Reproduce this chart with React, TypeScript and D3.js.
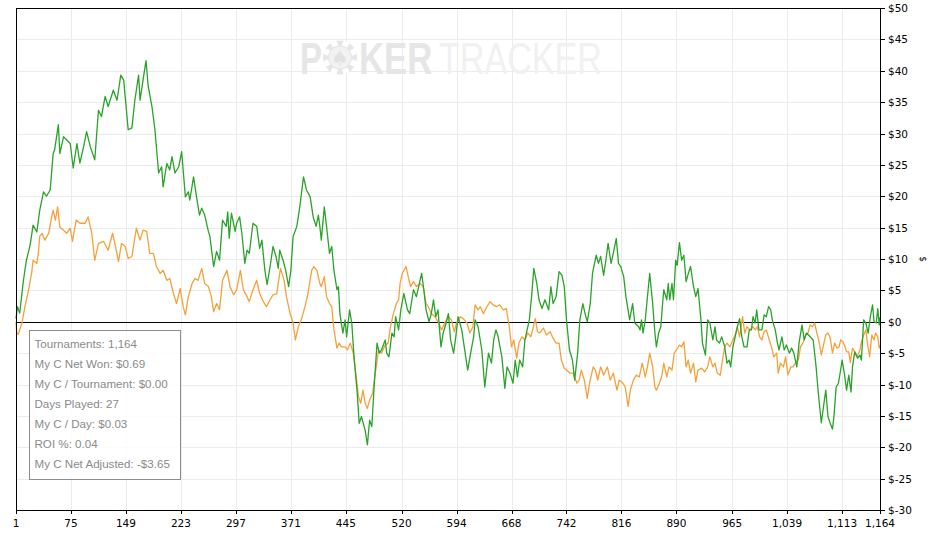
import React from "react";
import * as d3 from "d3";

// ---- data ----
const xTickValues = [1, 75, 149, 223, 297, 371, 445, 520, 594, 668, 742, 816, 890, 965, 1039, 1113, 1164];
const yTickValues = [50, 45, 40, 35, 30, 25, 20, 15, 10, 5, 0, -5, -10, -15, -20, -25, -30];

const greenTournaments = [
  1, 3, 6, 11, 15, 20, 24, 29, 33, 38, 42, 47, 51, 53, 58, 60, 65, 69, 74, 78, 83, 87, 92, 96, 101, 107, 112, 116, 121, 125,
  132, 137, 142, 146, 152, 157, 161, 166, 168, 172, 176, 179, 184, 188, 193, 197,
  199, 204, 208, 211, 215, 220, 224, 229, 233, 235, 240, 244, 248, 251, 255, 260, 262, 267, 271, 275, 279, 284, 286, 288,
  291, 296, 298, 302, 305, 309, 312, 315, 320, 325, 329, 332, 336, 339, 343, 347, 351, 354, 356, 361, 364, 368, 371, 374,
  379, 383, 388, 392, 397, 401, 405, 408,
  410, 412, 416, 419, 423, 426, 429, 433, 435, 437, 441, 444, 446, 450, 453, 456, 460, 463, 466, 471, 474, 477, 480, 483,
  487, 490, 493, 498, 500, 503, 507, 510, 512, 516, 519, 523, 528, 531, 536, 540, 544, 547, 550, 553, 557, 560, 563, 566,
  569, 573, 576, 580, 583, 586, 590, 593, 596, 601, 605, 609, 613, 617, 619, 623,
  628, 632, 637, 641, 644, 647, 650, 655, 659, 662, 666, 670, 673, 676, 679, 683, 686, 689, 692, 695, 698, 702, 705, 709,
  713, 718, 721, 724, 728, 732, 736, 739, 742, 746, 750, 753, 757, 760, 764, 767, 770, 774, 777, 782, 785, 788, 792, 795,
  798, 802, 805, 809, 812, 815, 819, 822, 827, 831, 834, 839,
  841, 843, 845, 848, 851, 854, 858, 861, 863, 866, 869, 871, 873, 877, 879, 881, 884, 886, 889, 891, 894, 897, 900, 903,
  906, 909, 913, 916, 919, 923, 925, 929, 932, 935, 939, 942, 944, 948, 951, 955, 958, 961, 963, 966, 969, 972, 975, 978,
  981, 985, 988, 991, 993, 996, 998, 1001, 1005, 1008, 1011, 1014, 1017, 1019, 1023, 1026, 1028, 1032, 1035, 1038, 1042,
  1045, 1048, 1052, 1055, 1059, 1062, 1065, 1070,
  1074, 1078, 1081, 1085, 1088, 1091, 1094, 1097, 1100, 1102, 1105, 1108, 1111, 1113, 1116, 1119, 1122, 1125, 1127, 1130,
  1134, 1137, 1139, 1142, 1145, 1148, 1151, 1154, 1156, 1159, 1161, 1163, 1164,
];
const greenNet = [
  0.5, 2.4, 1.4, 6.6, 9.8, 12.2, 15.4, 14.3, 17.8, 20.7, 20.0, 21.0, 26.8, 27.4, 31.4, 26.8, 29.5, 29.0, 28.4, 24.5, 28.4, 25.3, 27.9, 30.3, 27.9, 25.8, 33.7, 32.7, 35.9, 34.3,
  36.9, 35.3, 39.3, 38.5, 30.6, 30.9, 35.3, 39.3, 35.3, 38.5, 41.6, 37.5, 34.3, 30.6, 23.7, 24.7,
  21.5, 25.2, 24.2, 26.3, 23.7, 24.7, 27.1, 19.9, 20.7, 19.4, 23.1, 19.9, 17.0, 18.1, 17.0, 14.4, 13.6, 8.8, 11.2, 9.8, 16.2, 15.2, 17.5, 13.3,
  17.3, 14.4, 15.7, 16.7, 14.1, 9.3, 11.4, 10.9, 15.7, 15.2, 11.7, 13.0, 8.2, 5.9, 8.8, 12.0, 10.4, 8.5, 11.4, 9.6, 8.2, 5.6, 8.2, 13.6,
  15.2, 18.3, 23.1, 21.0, 19.9, 16.7, 15.2, 17.0,
  15.2, 13.0, 18.3, 15.2, 10.9, 12.0, 8.2, 5.1, 5.6, 1.3, -1.8, 0.3, -2.4, 1.9, -0.2, -5.6, -10.9, -16.2, -15.1, -17.3, -19.6, -15.7, -16.7, -10.4,
  -3.4, -5.0, -4.5, -2.9, -5.0, -5.6, -1.8, -2.4, 0.8, -1.3, 1.9, 4.5, 1.9, 1.3, 5.1, 4.0, 6.1, 7.7, 5.1, 1.9, 0.0, 1.3, 3.5, 0.8,
  1.9, -4.0, -1.8, -0.2, 1.3, -2.9, -5.0, -2.4, 0.8, -1.3, -4.5, -7.7, -5.0, -2.4, 0.3, -0.8,
  -4.5, -10.4, -5.0, -6.6, -2.9, -1.3, -2.4, -5.6, -10.6, -7.2, -8.2, -9.8, -6.1, -8.8, -6.1, -7.2, -2.9, -1.3, 0.3, 4.0, 8.5, 6.1, 3.5, 2.1,
  3.5, 1.9, 5.6, 2.9, 4.0, 8.0, 7.4, 5.6, 0.3, -4.5, -6.1, -9.3, -5.0, 0.3, 2.9, 1.3, 0.0, 2.9, 7.7, 10.6, 9.3, 10.4, 7.4, 9.8,
  12.5, 9.3, 10.9, 13.3, 9.3, 8.8, 7.2, 4.0, 0.3, 2.9, -0.2, -0.8,
  -1.3, 0.3, -1.8, 0.3, 4.0, 7.7, 2.9, -1.8, -4.0, -1.8, -0.8, 2.4, 5.1, 3.5, 6.1, 3.5, 6.1, 3.5, 9.8, 9.0, 12.6, 9.8, 10.6, 6.4,
  7.7, 8.8, 5.6, 4.0, 5.3, 0.3, -3.4, -5.3, 0.3, -0.2, -2.9, -0.8, -2.9, -3.4, -2.4, -4.0, -6.6, -6.1, -7.2, -4.0, -2.4, -0.8, 0.5, -2.4,
  -4.0, -4.0, -1.3, -1.3, 0.8, -0.2, 1.9, -1.3, -1.3, 1.1, 0.8, 2.4, 1.9, 0.3, -1.3, -3.4, -4.5, -2.4, -4.5, -3.7, -5.0,
  -4.2, -5.0, -7.2, -3.4, -0.5, -2.9, -1.8, -2.4,
  -2.9, -7.2, -11.4, -16.1, -13.5, -10.9, -15.1, -16.2, -17.1, -15.1, -10.4, -9.8, -7.7, -6.1, -8.2, -10.9, -8.5, -11.2, -7.2, -4.8,
  -5.8, -5.3, -6.1, 0.3, -0.2, -1.8, 0.8, 2.7, 0.0, -0.2, 2.1, -0.5, 0.69,
];

const orangeTournaments = [
  1, 2, 4, 9, 13, 18, 22, 24, 29, 31, 33, 36, 40, 45, 49, 51, 54, 57, 60, 65, 69, 74, 77, 82, 87, 94, 98, 103, 107, 112,
  119, 125, 131, 134, 139, 143, 148, 152, 157, 163, 168, 172, 177, 181, 186, 190, 195,
  199, 204, 208, 213, 217, 222, 226, 229, 233, 238, 242, 246, 251, 255, 260, 264, 267, 271, 275, 279, 285, 289, 294, 298,
  303, 307, 312, 315, 320, 325, 329, 334, 338, 343, 347, 352, 357, 362, 365, 370, 374, 377, 381, 385, 390, 394, 399, 402, 406,
  410, 412, 416, 419, 423, 426, 429, 433, 436, 439, 444, 447, 451, 455, 459, 462, 465, 468, 471, 474, 477, 481, 484, 489,
  493, 498, 502, 505, 509, 513, 516, 518, 521, 526, 529, 532, 536, 540, 545, 549, 553, 556, 560, 565, 570, 574, 578, 583,
  587, 591, 594, 599, 603, 608, 612, 616, 619, 623,
  626, 630, 635, 639, 643, 648, 652, 657, 661, 665, 668, 671, 675, 678, 682, 686, 690, 694, 697, 700, 703, 706, 711, 715,
  720, 723, 728, 732, 735, 739, 742, 747, 751, 756, 759, 762, 766, 770, 773, 778, 781, 784, 788, 792, 797, 801, 805, 810,
  813, 818, 821, 825, 828, 832, 836, 840,
  844, 848, 851, 854, 858, 861, 863, 867, 870, 873, 877, 880, 884, 887, 890, 894, 897, 900, 903, 906, 909, 913, 916, 919,
  924, 928, 932, 935, 939, 942, 945, 949, 952, 955, 958, 962, 966, 969, 972, 975, 979, 982, 985, 989, 993, 996, 999, 1002,
  1005, 1008, 1011, 1015, 1018, 1021, 1025, 1027, 1030, 1034, 1037, 1040, 1044, 1047, 1051, 1054, 1057, 1061, 1064, 1067, 1070,
  1073, 1076, 1079, 1082, 1085, 1088, 1091, 1094, 1097, 1100, 1103, 1106, 1109, 1111, 1114, 1117, 1119, 1122, 1124, 1127,
  1130, 1133, 1137, 1139, 1142, 1145, 1147, 1150, 1153, 1156, 1158, 1161, 1163, 1164,
];
const orangeNet = [
  0.0, -1.8, -2.0, -0.2, 2.4, 5.1, 7.7, 9.8, 9.3, 10.9, 13.6, 14.1, 13.0, 14.1, 16.7, 17.8, 16.2, 18.3, 15.1, 14.6, 14.1, 14.9, 12.8, 16.2, 15.7, 15.7, 16.7, 14.1, 9.8, 12.5,
  12.8, 11.4, 14.1, 12.5, 9.6, 12.5, 12.0, 10.1, 10.4, 14.9, 13.0, 14.6, 14.4, 10.9, 10.9, 8.8, 7.7,
  8.2, 6.6, 6.9, 4.5, 2.9, 5.3, 2.4, 1.1, 4.0, 6.1, 6.9, 6.6, 8.5, 6.1, 5.6, 4.0, 1.6, 2.9, 1.9, 6.6, 8.2, 5.6, 4.3, 5.1,
  8.2, 5.1, 4.0, 3.2, 5.1, 6.6, 4.5, 3.2, 2.4, 3.5, 4.3, 4.5, 8.5, 6.6, 4.0, 1.3, -0.2, -2.9, -0.8, 0.3, 2.4, 4.5, 8.2, 8.8, 8.2,
  6.1, 5.6, 7.2, 4.0, 2.9, 2.4, -1.3, -4.2, -3.4, -4.0, -4.0, -4.5, -3.4, -5.0, -8.8, -11.9, -13.0, -10.9, -13.0, -13.8, -12.5, -11.4, -8.8, -4.5,
  -5.0, -3.7, -3.4, -0.8, 1.3, 2.9, 3.5, 6.1, 7.7, 8.8, 7.2, 5.6, 6.4, 5.6, 6.1, 5.6, 2.9, 2.4, 1.3, 0.8, -0.2, -1.3, -0.2, 0.8,
  0.3, -1.6, -0.2, 0.8, 0.5, -0.2, -1.8, -0.8, 2.7, 1.9,
  2.4, 1.3, 2.4, 3.2, 2.7, 2.4, 2.7, 1.9, 2.1, -0.8, -4.0, -2.9, -5.8, -3.4, -2.4, -2.9, -1.8, -2.4, -1.0, 0.5, -1.6, -1.8, -1.0, -2.1,
  -1.6, -2.4, -3.4, -3.4, -6.1, -7.4, -7.7, -8.2, -8.2, -9.8, -9.3, -7.7, -9.3, -12.2, -9.8, -7.2, -7.7, -9.3, -7.2, -8.5, -7.2, -9.3, -8.2, -10.9,
  -9.3, -9.8, -10.4, -13.5, -10.9, -9.3, -8.5, -8.8,
  -6.6, -8.8, -7.2, -5.0, -7.2, -10.4, -10.9, -9.8, -8.8, -6.6, -8.8, -7.2, -7.7, -5.0, -4.5, -3.7, -4.0, -3.2, -7.2, -6.1, -8.2, -6.6, -9.6, -7.7,
  -7.4, -8.0, -7.2, -5.6, -7.2, -6.6, -8.2, -8.5, -6.1, -4.0, -3.4, -4.0, -2.9, -2.1, -0.8, -2.4, 0.8, -1.8, -0.8, -1.3, -0.8, -1.3, -0.8, -2.4,
  -2.9, -1.6, -1.3, -2.9, -4.0, -5.6, -5.0, -8.2, -6.6, -7.2, -5.6, -8.5, -7.2, -7.2, -6.4, -6.1, -4.0, -3.2, -2.1, -1.8, -0.5,
  -0.8, -0.2, -1.8, -3.2, -5.3, -3.7, -2.1, -1.8, -2.6, -5.0, -3.4, -4.2, -4.0, -2.9, -3.2, -4.0, -4.8, -4.8, -6.5, -4.2,
  -4.8, -5.6, -4.5, -3.2, -2.1, -1.3, -3.4, -5.6, -2.1, -2.9, -1.8, -2.4, -4.2, -3.65,
];

const summaryLines = [
  "Tournaments: 1,164",
  "My C Net Won: $0.69",
  "My C / Tournament: $0.00",
  "Days Played: 27",
  "My C / Day: $0.03",
  "ROI %: 0.04",
  "My C Net Adjusted: -$3.65",
];

const W = 929;
const H = 533;
const LEFT = 16;
const RIGHT = 880;
const TOP = 8;
const BOTTOM = 510;

const GREEN = "#29a329";
const ORANGE = "#f7a03a";
const GRID = "#ebebeb";
const AXIS_FONT = "'DejaVu Sans', Tahoma, sans-serif";
const MARK_FONT = "'Liberation Sans', Arial, sans-serif";

export default function App() {
  const x = d3.scaleLinear().domain([1, 1164]).range([LEFT, RIGHT]);
  const y = d3.scaleLinear().domain([-30, 50]).range([BOTTOM, TOP]);

  const line = d3
    .line<[number, number]>()
    .x((d) => x(d[0]))
    .y((d) => y(d[1]));

  const greenPts = greenTournaments.map((t, i) => [t, greenNet[i]] as [number, number]);
  const orangePts = orangeTournaments.map((t, i) => [t, orangeNet[i]] as [number, number]);

  const fmtX = d3.format(",");
  const fmtY = (v: number) => (v < 0 ? `$-${Math.abs(v)}` : `$${v}`);

  const chipCx = 340;
  const chipCy = 57.5;
  const notches = d3.range(8).map((i) => (i * 360) / 8 + 22.5);

  return (
    <svg
      width={W}
      height={H}
      style={{ position: "absolute", left: 0, top: 0, background: "#fff" }}
    >
      <rect x={0} y={0} width={W} height={H} fill="#fff" />

      {/* grid */}
      <g shapeRendering="crispEdges">
        {yTickValues.map((v) => (
          <line key={"gy" + v} x1={LEFT} x2={RIGHT} y1={Math.round(y(v)) + 0.5} y2={Math.round(y(v)) + 0.5} stroke={GRID} />
        ))}
        {xTickValues.map((v) => (
          <line key={"gx" + v} x1={Math.round(x(v)) + 0.5} x2={Math.round(x(v)) + 0.5} y1={TOP} y2={BOTTOM} stroke={GRID} />
        ))}
      </g>

      {/* watermark */}
      <g>
        <text transform="translate(300 73.5) scale(0.75 1)" fontFamily={MARK_FONT} fontWeight="bold" fontSize={44} fill="#e6e6e6">P</text>
        <circle cx={chipCx} cy={chipCy} r={17} fill="#e6e6e6" />
        {notches.map((a) => (
          <rect
            key={"n" + a}
            x={chipCx - 3}
            y={chipCy - 17}
            width={6}
            height={5}
            fill="#fff"
            transform={`rotate(${a} ${chipCx} ${chipCy})`}
          />
        ))}
        <circle cx={chipCx} cy={chipCy} r={11} fill="#f2f2f2" />
        <text x={chipCx} y={chipCy + 7} textAnchor="middle" fontSize={20} fill="#e2e2e2" fontFamily="'DejaVu Sans', sans-serif">♠</text>
        <text transform="translate(359 73.5) scale(0.79 1)" fontFamily={MARK_FONT} fontWeight="bold" fontSize={44} fill="#e6e6e6">KER</text>
        <text transform="translate(439 73.5) scale(0.775 1)" fontFamily={MARK_FONT} fontSize={44} fill="#f1f1f1">TRACKER</text>
      </g>

      {/* zero line */}
      <line x1={LEFT} x2={RIGHT} y1={Math.round(y(0)) + 0.5} y2={Math.round(y(0)) + 0.5} stroke="#000" shapeRendering="crispEdges" />

      {/* series */}
      <path d={line(orangePts) || ""} fill="none" stroke={ORANGE} strokeWidth={1.3} strokeLinejoin="round" />
      <path d={line(greenPts) || ""} fill="none" stroke={GREEN} strokeWidth={1.3} strokeLinejoin="round" />

      {/* frame */}
      <g shapeRendering="crispEdges" stroke="#000">
        <line x1={LEFT - 0.5} x2={RIGHT} y1={TOP + 0.5} y2={TOP + 0.5} />
        <line x1={LEFT + 0.5} x2={LEFT + 0.5} y1={TOP} y2={BOTTOM} />
        <line x1={LEFT} x2={RIGHT + 0.5} y1={BOTTOM + 0.5} y2={BOTTOM + 0.5} />
        <line x1={RIGHT + 0.5} x2={RIGHT + 0.5} y1={TOP} y2={BOTTOM + 1} />
      </g>

      {/* x axis */}
      <g>
        {xTickValues.map((v) => (
          <g key={"xt" + v}>
            <line x1={Math.round(x(v)) + 0.5} x2={Math.round(x(v)) + 0.5} y1={BOTTOM} y2={BOTTOM + 4} stroke="#000" shapeRendering="crispEdges" />
            <text x={x(v)} y={526.5} textAnchor="middle" fontSize={10.5} fontFamily={AXIS_FONT} fill="#000">
              {fmtX(v)}
            </text>
          </g>
        ))}
      </g>

      {/* right y axis */}
      <g>
        {yTickValues.map((v) => (
          <g key={"yt" + v}>
            <line x1={RIGHT} x2={RIGHT + 5} y1={Math.round(y(v)) + 0.5} y2={Math.round(y(v)) + 0.5} stroke="#000" shapeRendering="crispEdges" />
            <text x={888} y={y(v) + 4} fontSize={10.5} fontFamily={AXIS_FONT} fill="#000">
              {fmtY(v)}
            </text>
          </g>
        ))}
        <text x={920} y={259} fontSize={9} fontFamily={AXIS_FONT} fill="#000" textAnchor="middle" transform="rotate(90 920 259)">
          $
        </text>
      </g>

      {/* summary box */}
      <g>
        <rect x={29.5} y={330.5} width={151} height={149} fill="#fff" fillOpacity={0.85} stroke="#8c8c8c" />
        {summaryLines.map((s, i) => (
          <text key={s} x={34.5} y={347.5 + i * 20} fontSize={11.6} fontFamily={MARK_FONT} fill="#8a8a8a">
            {s}
          </text>
        ))}
      </g>
    </svg>
  );
}
